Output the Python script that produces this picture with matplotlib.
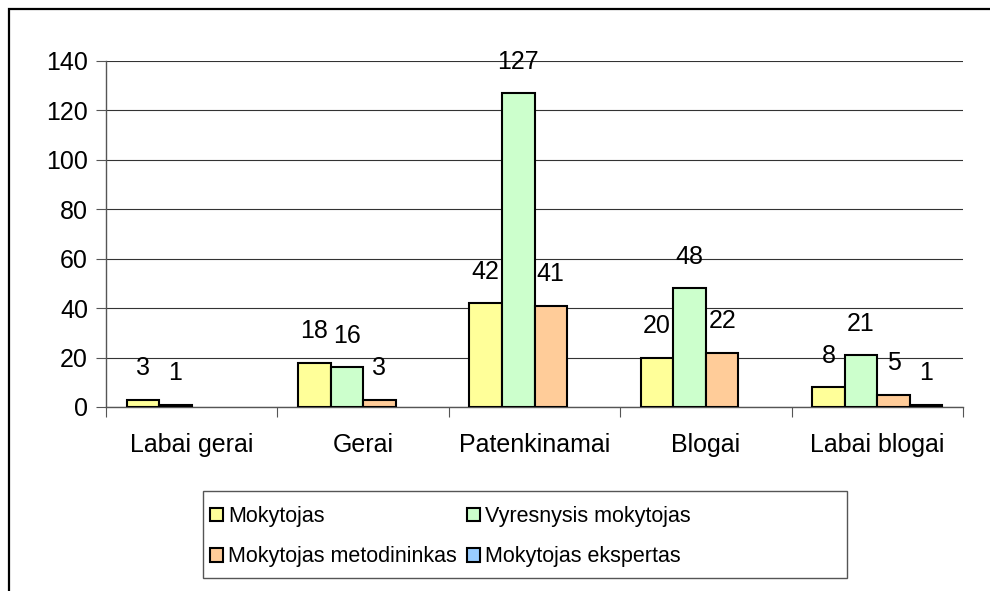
import numpy as np
import matplotlib
matplotlib.use('Agg')
import matplotlib.pyplot as plt
from matplotlib.patches import Rectangle

plt.rcParams['font.family'] = ['Liberation Sans', 'DejaVu Sans']

categories = ['Labai gerai', 'Gerai', 'Patenkinamai', 'Blogai', 'Labai blogai']
series_names = ['Mokytojas', 'Vyresnysis mokytojas', 'Mokytojas metodininkas', 'Mokytojas ekspertas']
mokytojas = [3, 18, 42, 20, 8]
vyresnysis = [1, 16, 127, 48, 21]
metodininkas = [0, 3, 41, 22, 5]
ekspertas = [0, 0, 0, 0, 1]
colors = ['#FFFF99', '#CCFFCC', '#FFCC99', '#99CCFF']

fig = plt.figure(figsize=(9.9, 5.91), dpi=100)
ax = fig.add_axes([106/990, 1 - 407/591, 857/990, 346/591])

x = np.arange(len(categories))
w = 0.19
bars = {}
for i, (name, vals) in enumerate(zip(series_names, [mokytojas, vyresnysis, metodininkas, ekspertas])):
    vals = np.array(vals)
    pos = x + (i - 1.5) * w
    keep = vals > 0  # excel draws nothing for zero values
    bars[name] = ax.bar(pos[keep], vals[keep], w, color=colors[i], edgecolor='black',
                        linewidth=1.5, zorder=3)
    for px, v in zip(pos[keep], vals[keep]):
        ax.annotate(str(v), (px, v), xytext=(0, 14), textcoords='offset points',
                    ha='center', va='bottom', fontsize=18)

ax.set_ylim(0, 140)
ax.set_xlim(-0.5, 4.5)
ax.set_yticks(range(0, 141, 20))
ax.yaxis.grid(True, color='#333333', linewidth=0.8, zorder=0)
ax.set_xticks(np.arange(-0.5, 5, 1))
ax.set_xticklabels([])
ax.set_xticks(x, minor=True)
ax.set_xticklabels(categories, minor=True)
ax.tick_params(axis='x', which='minor', length=0, pad=19, labelsize=18)
ax.tick_params(axis='x', which='major', length=7, color='#555555', direction='out')
ax.tick_params(axis='y', length=7, color='#555555', pad=6, labelsize=18)
for s in ['top', 'right']:
    ax.spines[s].set_visible(False)
for s in ['left', 'bottom']:
    ax.spines[s].set_color('#555555')
    ax.spines[s].set_linewidth(1)

# legend: box drawn separately, it is much wider than the entries
order = [0, 2, 1, 3]
handles = [bars[series_names[k]] for k in order]
labels = [series_names[k] for k in order]
leg = fig.legend(handles, labels, loc='upper left', bbox_to_anchor=(210/990, 1 - 506/591),
                 ncol=2, frameon=False, prop={'size': 15.5},
                 handlelength=0.6, handleheight=0.6, handletextpad=0.25,
                 columnspacing=0.45, labelspacing=0.9, borderpad=0, borderaxespad=0)
fig.add_artist(Rectangle((203/990, 1 - 578/591), 644/990, 87/591, transform=fig.transFigure,
                         fill=False, edgecolor='#555555', linewidth=1))

fig.add_artist(Rectangle((9/990, -0.1), 1.2, 1.1 - 9/591, transform=fig.transFigure,
                         fill=False, edgecolor='black', linewidth=1.6))

fig.savefig('out.png', dpi=100)
